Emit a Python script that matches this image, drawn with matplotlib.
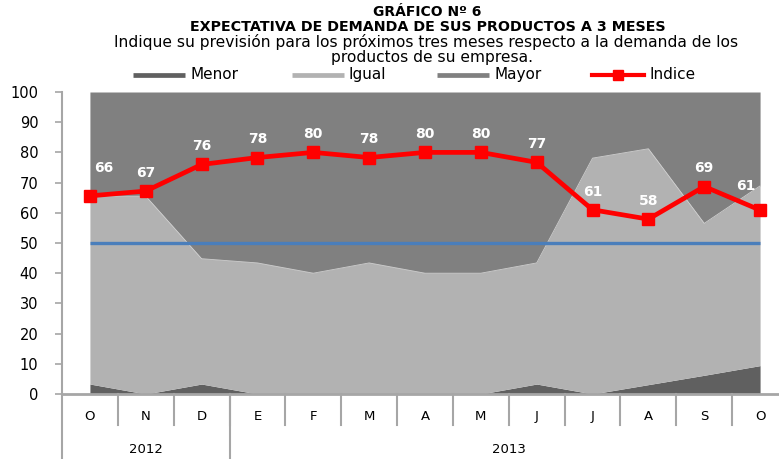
import numpy as np
import matplotlib.pyplot as plt
from matplotlib.lines import Line2D

# === DONNEES ===
months = ["O", "N", "D", "E", "F", "M", "A", "M", "J", "J", "A", "S", "O"]
years = ["2012", "2013"]
year_spans = [3, 10]  # nombre de mois par année

menor = [3.3, 0.0, 3.3, 0.0, 0.0, 0.0, 0.0, 0.0, 3.3, 0.0, 3.1, 6.2, 9.4]
igual = [62.2, 65.5, 41.5, 43.4, 40.0, 43.4, 40.0, 40.0, 40.1, 78.1, 78.1, 50.3, 59.5]
mayor = [34.5, 34.5, 55.2, 56.6, 60.0, 56.6, 60.0, 60.0, 56.6, 21.9, 18.8, 43.5, 31.1]
indice = [65.6, 67.2, 76.0, 78.3, 80.0, 78.3, 80.0, 80.0, 76.7, 61.0, 57.9, 68.7, 60.9]
referencia = [50] * 13
series_names = ["Menor", "Igual", "Mayor", "Indice"]

# === COULEURS ===
c_menor = "#606060"
c_igual = "#b2b2b2"
c_mayor = "#808080"
c_indice = "#ff0000"
c_ref = "#4a7ebb"
c_axis = "#a6a6a6"

W, H = 779, 459
fig = plt.figure(figsize=(W / 100, H / 100), dpi=100)
ax = fig.add_axes([62 / W, (H - 394) / H, (788 - 62) / W, (394 - 92) / H])

x = np.arange(len(months))
m = np.array(menor)
i = np.array(igual)
y = np.array(mayor)

ax.fill_between(x, 0, m, color=c_menor, lw=0)
ax.fill_between(x, m, m + i, color=c_igual, lw=0)
ax.fill_between(x, m + i, m + i + y, color=c_mayor, lw=0)
ax.plot(x, m + i, color="#d0d0d0", lw=0.6)

ax.plot(x, referencia, color=c_ref, lw=2.4, solid_capstyle="butt")
ax.plot(x, indice, color=c_indice, lw=3.4, marker="s", markersize=8.5)

# étiquettes de l'indice
for k, v in enumerate(indice):
    dx, dy = 0, 13
    if k == 0:
        dx, dy = 10, 20
    elif k == len(indice) - 1:
        dx, dy = -10, 17
    ax.annotate(f"{v:.0f}", (x[k], v), xytext=(dx, dy), textcoords="offset points",
                ha="center", va="center", color="white", fontweight="bold", fontsize=10)

ax.set_xlim(-0.5, len(months) - 0.5)
ax.set_ylim(0, 100)
ax.set_yticks(np.arange(0, 101, 10))
ax.tick_params(axis="y", length=5, width=1.2, color=c_axis, labelsize=10.5, pad=12)
ax.set_xticks([])
for s in ["top", "right"]:
    ax.spines[s].set_visible(False)
ax.spines["left"].set_color(c_axis)
ax.spines["left"].set_linewidth(1.5)
ax.spines["bottom"].set_color(c_axis)
ax.spines["bottom"].set_linewidth(2)

# axe des catégories (mois / années)
tr = ax.get_xaxis_transform()
for k, lab in enumerate(months):
    ax.text(k, -0.073, lab, transform=tr, ha="center", va="center", fontsize=9.5)
for b in np.arange(0.5, len(months) - 1, 1):
    ax.plot([b, b], [0, -0.103], transform=tr, color=c_axis, lw=1.5, clip_on=False)
start = -0.5
for yr, span in zip(years, year_spans):
    ax.plot([start, start], [0, -0.25], transform=tr, color=c_axis, lw=1.5, clip_on=False)
    ax.text(start + span / 2, -0.185, yr, transform=tr, ha="center", va="center", fontsize=9.5)
    start += span

# titres
fig.text(0.549, 1 - 12 / H, "GRÁFICO Nº 6", ha="center", va="center",
         fontweight="bold", fontsize=10)
fig.text(0.549, 1 - 27 / H, "EXPECTATIVA DE DEMANDA DE SUS PRODUCTOS A 3 MESES",
         ha="center", va="center", fontweight="bold", fontsize=10.3)
fig.text(0.547, 1 - 41.5 / H,
         "Indique su previsión para los próximos tres meses respecto a la demanda de los",
         ha="center", va="center", fontsize=11.2)
fig.text(0.555, 1 - 57.5 / H, "productos de su empresa.", ha="center", va="center",
         fontsize=11.2)

# légende (placée à la main)
leg_y = 1 - 74.5 / H
leg_x = [133, 292, 437, 592]
for k, name in enumerate(series_names):
    x0, x1 = leg_x[k] / W, (leg_x[k] + 52) / W
    if name == "Indice":
        fig.add_artist(Line2D([x0, x1], [leg_y, leg_y], color=c_indice, lw=3,
                              transform=fig.transFigure))
        fig.add_artist(Line2D([(x0 + x1) / 2], [leg_y], color=c_indice, marker="s",
                              markersize=7.5, transform=fig.transFigure))
    else:
        col = [c_menor, c_igual, c_mayor][k]
        fig.add_artist(Line2D([x0, x1], [leg_y, leg_y], color=col, lw=3.4,
                              solid_capstyle="butt", transform=fig.transFigure))
    fig.text(x1 + 5 / W, leg_y, name, ha="left", va="center", fontsize=11)

fig.savefig("out.png", dpi=100)
